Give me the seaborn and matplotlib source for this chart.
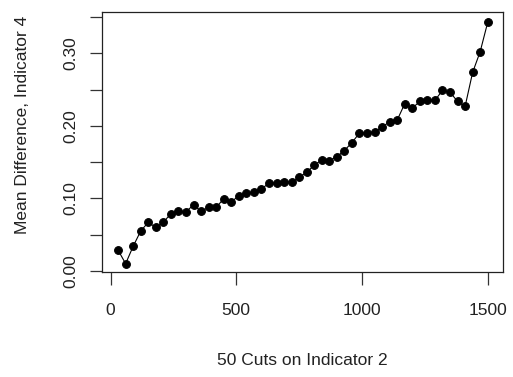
import numpy as np
import pandas as pd
import matplotlib
matplotlib.use("Agg")
import matplotlib.pyplot as plt
import seaborn as sns

# Data
cuts = list(range(30, 1501, 30))
mean_diff = [0.0286, 0.0100, 0.0340, 0.0550, 0.0670, 0.0600, 0.0670, 0.0790, 0.0820, 0.0816,
             0.0910, 0.0820, 0.0876, 0.0876, 0.0995, 0.0950, 0.1037, 0.1070, 0.1090, 0.1130,
             0.1210, 0.1210, 0.1220, 0.1220, 0.1290, 0.1360, 0.1457, 0.1530, 0.1520, 0.1576,
             0.1660, 0.1770, 0.1900, 0.1900, 0.1920, 0.1980, 0.2060, 0.2080, 0.2305, 0.2245,
             0.2336, 0.2360, 0.2350, 0.2490, 0.2466, 0.2336, 0.2267, 0.2737, 0.3023, 0.3428]
x_ticks = [0, 500, 1000, 1500]
y_ticks = [0.00, 0.05, 0.10, 0.15, 0.20, 0.25, 0.30, 0.35]
y_ticklabels = ["0.00", "", "0.10", "", "0.20", "", "0.30", ""]
x_label = "50 Cuts on Indicator 2"
y_label = "Mean Difference, Indicator 4"

df = pd.DataFrame({"cut": cuts, "diff": mean_diff})

sns.set_style("ticks")
plt.rcParams["font.family"] = ["Liberation Sans", "DejaVu Sans"]

fig = plt.figure(figsize=(5.13, 3.77), dpi=100)
ax = fig.add_axes([102 / 513, 1 - 272 / 377, 401.3 / 513, 260 / 377])

sns.lineplot(data=df, x="cut", y="diff", ax=ax, color="black", linewidth=0.8,
             marker="o", markersize=5.6, markeredgecolor="black", markerfacecolor="black")

ax.set_xlim(-34, 1562)
ax.set_ylim(-0.0015, 0.357)
ax.set_xticks(x_ticks)
ax.set_xticklabels([str(t) for t in x_ticks])
ax.set_yticks(y_ticks)
ax.set_yticklabels(y_ticklabels)

for s in ax.spines.values():
    s.set_visible(True)
    s.set_color("#222222")
    s.set_linewidth(0.9)

ax.tick_params(axis="both", which="both", bottom=True, left=True, top=False, right=False,
               direction="out", length=9, width=0.9, color="#333333",
               labelsize=12.5, labelcolor="#222222")
ax.tick_params(axis="x", pad=13)
ax.tick_params(axis="y", pad=8, labelrotation=90)
for lab in ax.get_yticklabels():
    lab.set_verticalalignment("center")

ax.set_xlabel(x_label, fontsize=12.5, color="#222222")
ax.set_ylabel(y_label, fontsize=12.5, color="#222222")
ax.xaxis.set_label_coords(0.5, -0.31)
ax.yaxis.set_label_coords(-0.18, 0.565)

fig.savefig("out.png", dpi=100)
